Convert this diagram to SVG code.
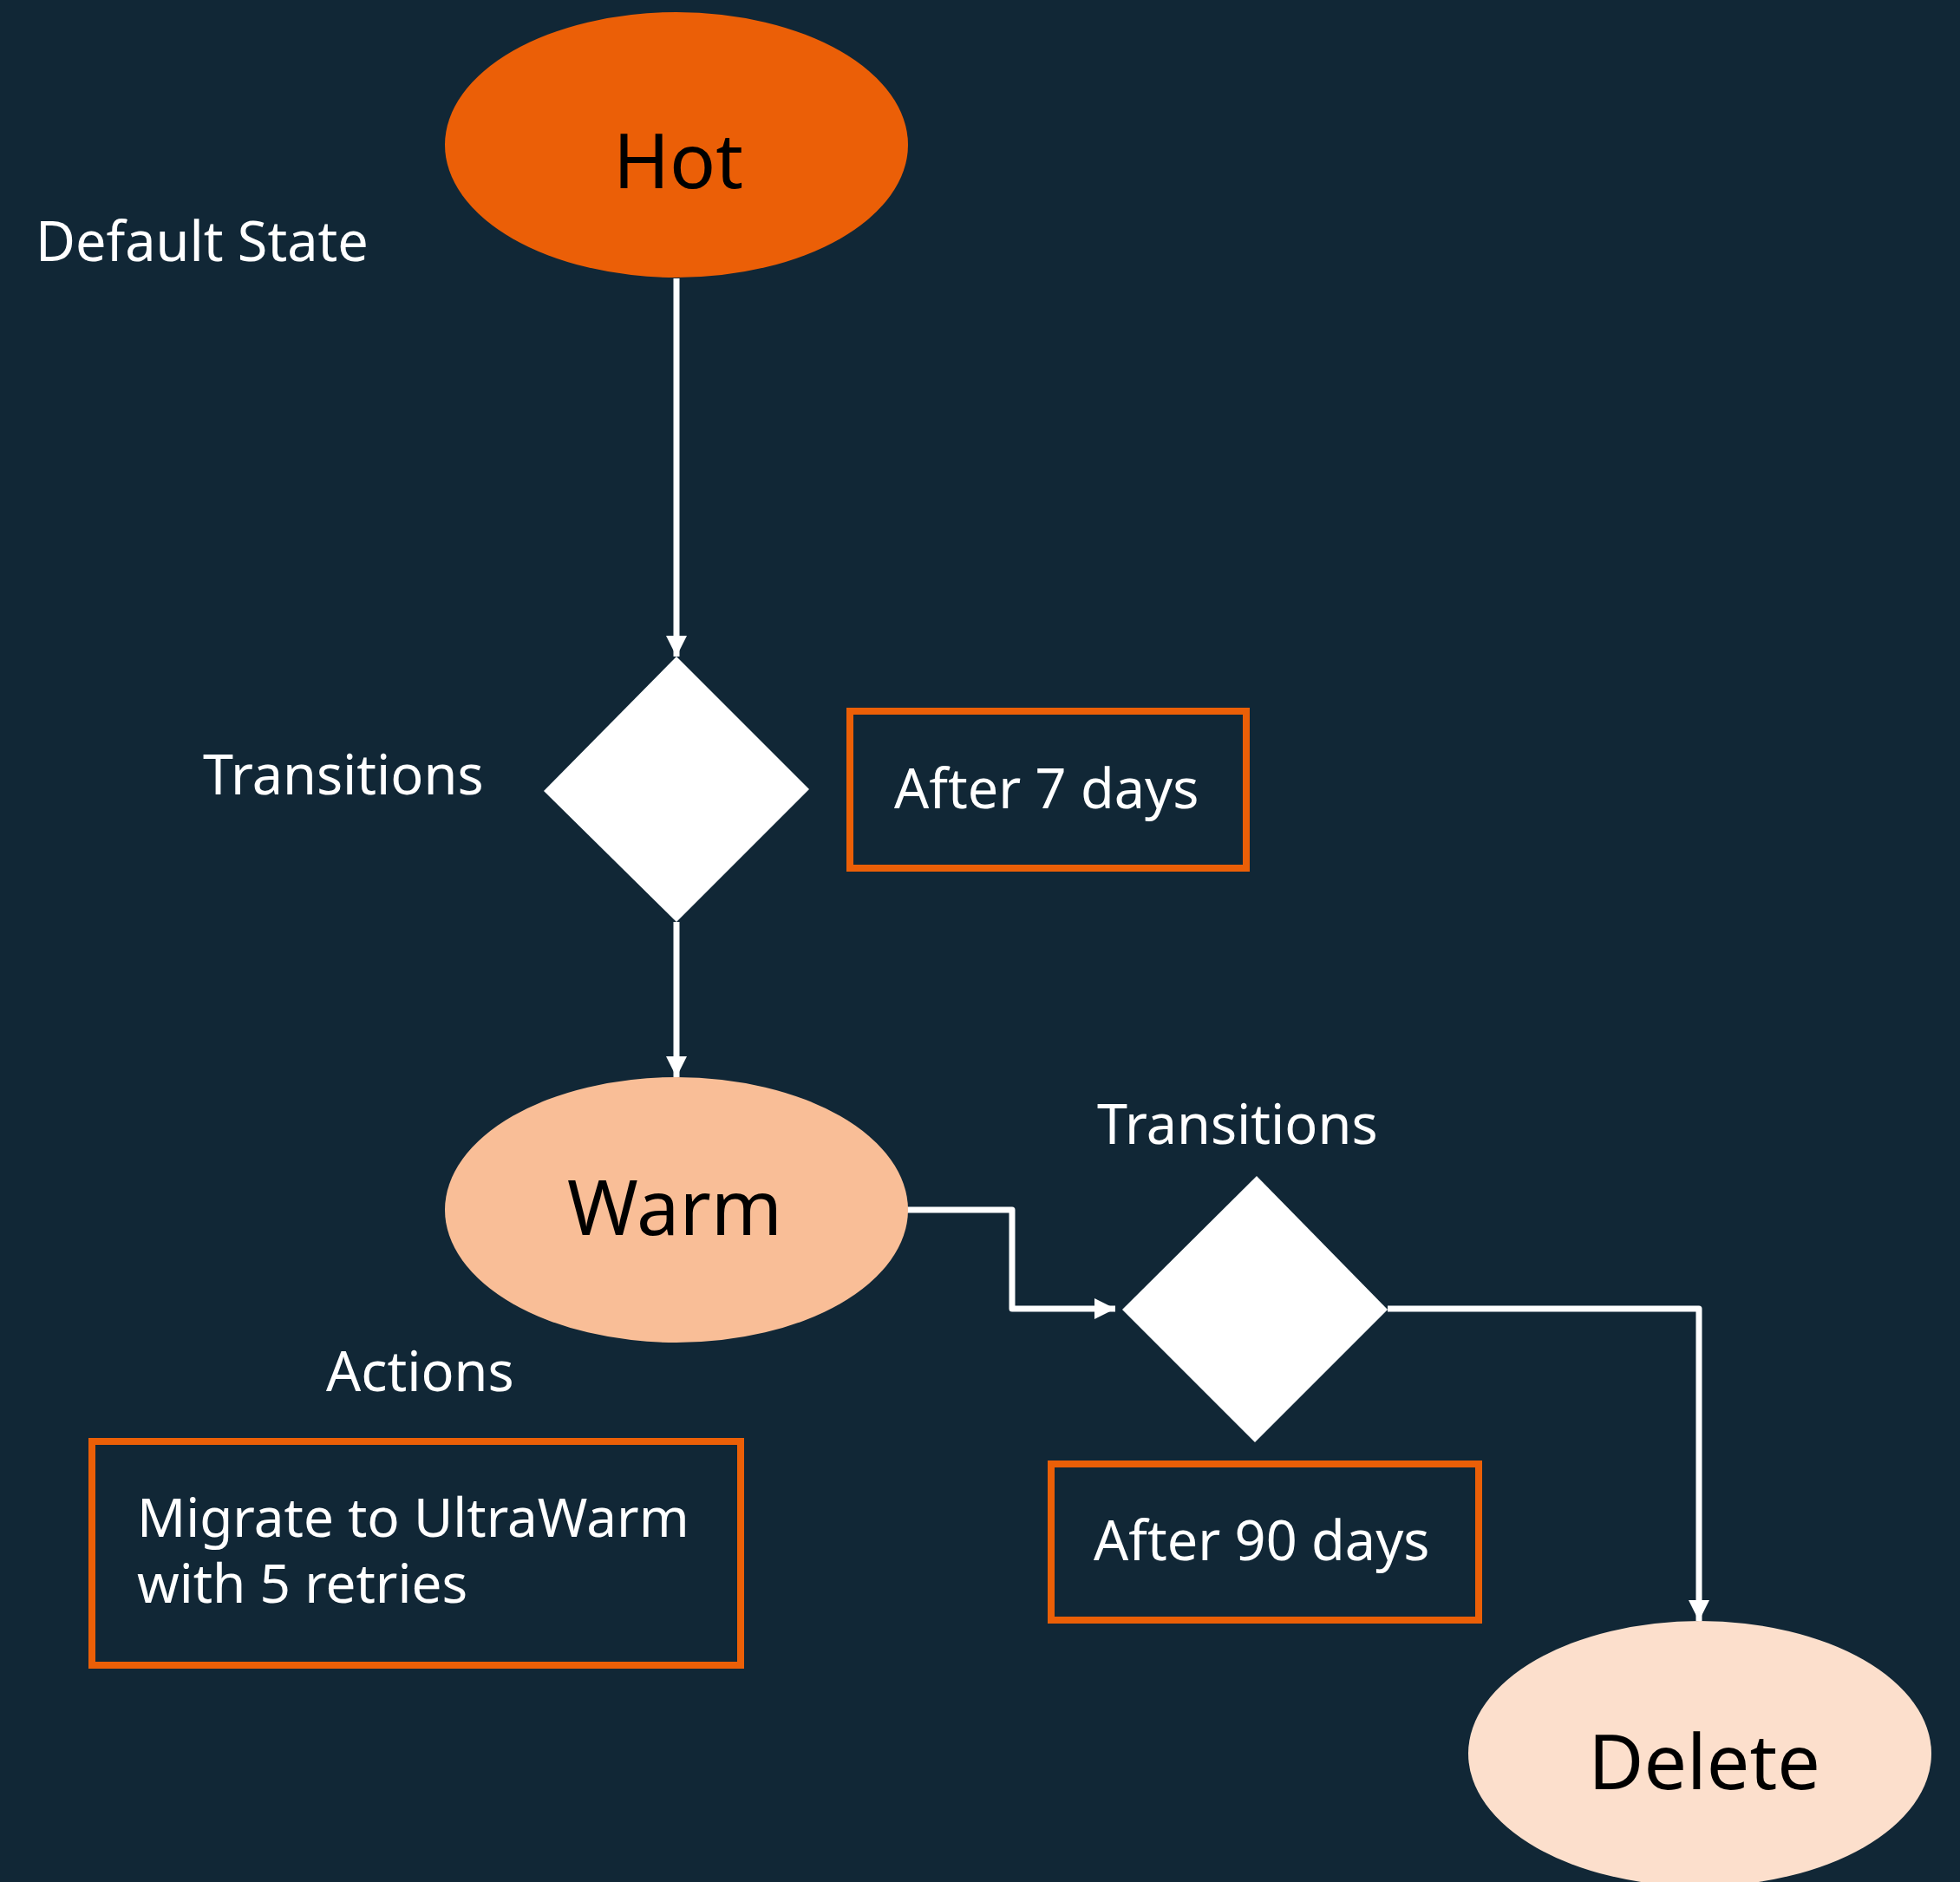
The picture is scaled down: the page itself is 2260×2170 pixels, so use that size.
<svg xmlns="http://www.w3.org/2000/svg" width="2260" height="2170" viewBox="0 0 2260 2170">
  <defs>
    <marker id="arrow" viewBox="0 0 24 24" refX="24" refY="12" markerWidth="24" markerHeight="24" markerUnits="userSpaceOnUse" orient="auto">
      <path d="M0,0 L24,12 L0,24 Z" fill="#ffffff"/>
    </marker>
    <style>
      .lbl { font-family: "Noto Sans", "Open Sans", "Liberation Sans", sans-serif; fill: #ffffff; font-size: 63px; }
      .state { font-family: "Noto Sans", "Open Sans", "Liberation Sans", sans-serif; fill: #000000; font-size: 88px; text-anchor: middle; }
      .cond { fill: none; stroke: #eb5f07; stroke-width: 8; }
      .decision { fill: #ffffff; }
      .edge { fill: none; stroke: #ffffff; stroke-width: 7; stroke-linejoin: round; }
    </style>
  </defs>

  <rect x="0" y="0" width="2260" height="2170" fill="#112736"/>

  <!-- connectors -->
  <g id="connectors">
    <path class="edge" d="M780,321 V757" marker-end="url(#arrow)"/>
    <path class="edge" d="M780,1063 V1242" marker-end="url(#arrow)"/>
    <path class="edge" d="M1046,1395 H1167 V1509 H1286" marker-end="url(#arrow)"/>
    <path class="edge" d="M1600,1509 H1959 V1869" marker-end="url(#arrow)"/>
  </g>

  <!-- states -->
  <g id="hot">
    <ellipse cx="780" cy="167" rx="267" ry="153" fill="#eb5f07"/>
    <text class="state" x="782" y="217">Hot</text>
  </g>
  <g id="warm">
    <ellipse cx="780" cy="1395" rx="267" ry="153" fill="#f9be97"/>
    <text class="state" x="778" y="1424">Warm</text>
  </g>
  <g id="delete">
    <ellipse cx="1960" cy="2022" rx="267" ry="153" fill="#fcdfcc"/>
    <text class="state" x="1965" y="2063">Delete</text>
  </g>

  <!-- transition decisions -->
  <g id="transition-1">
    <polygon class="decision" points="780,757 933,910 780,1063 627,912"/>
  </g>
  <g id="transition-2">
    <polygon class="decision" points="1449,1356 1600,1510 1447,1663 1294,1510"/>
  </g>

  <!-- conditions and actions -->
  <g id="after-7-days">
    <rect class="cond" x="980" y="820" width="457" height="181"/>
    <text class="lbl" x="1031" y="932">After 7 days</text>
  </g>
  <g id="after-90-days">
    <rect class="cond" x="1212" y="1688" width="493" height="180"/>
    <text class="lbl" x="1261" y="1799">After 90 days</text>
  </g>
  <g id="migrate-action">
    <rect class="cond" x="106" y="1662" width="748" height="258"/>
    <text class="lbl" style="font-size:62px"><tspan x="158" y="1772">Migrate to UltraWarm</tspan><tspan x="158" y="1848">with 5 retries</tspan></text>
  </g>

  <!-- section labels -->
  <g id="labels">
    <text class="lbl" x="41" y="301">Default State</text>
    <text class="lbl" x="234" y="916">Transitions</text>
    <text class="lbl" x="1265" y="1319">Transitions</text>
    <text class="lbl" x="376" y="1604">Actions</text>
  </g>
</svg>
